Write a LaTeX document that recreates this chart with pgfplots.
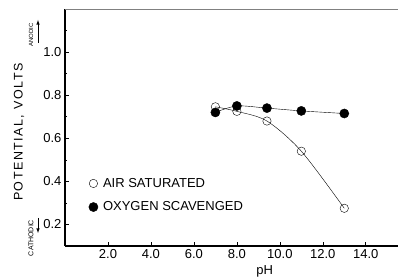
\documentclass[border=0pt]{standalone}
\usepackage{fontspec}
\setmainfont{Liberation Sans}
\newfontfamily\widefont[LetterSpace=12]{Liberation Sans}
\usepackage{pgfplots}
\pgfplotsset{compat=1.18}
\begin{document}
\begin{tikzpicture}
\begin{axis}[
  scale only axis,
  width=333pt, height=237pt,
  xmin=0, xmax=15.5, ymin=0.1, ymax=1.2,
  axis lines=left,
  axis line style={line width=1.1pt, -},
  xtick={2,4,6,8,10,12,14},
  ytick={0.2,0.4,0.6,0.8,1.0},
  minor ytick={0.3,0.5,0.7,0.9,1.1},
  xticklabel style={/pgf/number format/fixed,/pgf/number format/fixed zerofill,/pgf/number format/precision=1},
  yticklabel style={/pgf/number format/fixed,/pgf/number format/fixed zerofill,/pgf/number format/precision=1},
  /pgf/number format/assume math mode=true,
  tick align=inside,
  major tick length=4pt, minor tick length=2.5pt,
  tick style={black, line width=0.6pt},
  ticklabel style={font=\fontsize{13}{15}\selectfont},
  xlabel={pH}, xlabel style={font=\fontsize{13}{15}\selectfont, at={(rel axis cs:0.6,0)}, anchor=north, yshift=-16pt},
  ylabel={\widefont POTENTIAL, VOLTS}, ylabel style={font=\fontsize{12.5}{14}\selectfont, at={(rel axis cs:-0.138,0.48)}, anchor=center},
  legend style={at={(axis cs:1.1,0.425)}, anchor=north west, draw=none, fill=none,
    font=\fontsize{13}{15}\selectfont, row sep=9pt, inner sep=0pt,
    /tikz/every odd column/.append style={column sep=3pt}},
  legend cell align=left,
  clip=false,
]
\addlegendimage{only marks, mark=o, mark size=4.2pt, black, thin}
\addlegendentry{AIR SATURATED}
\addlegendimage{only marks, mark=*, mark size=4.6pt, black}
\addlegendentry{OXYGEN SCAVENGED}
\addplot[black, thin, smooth, mark=*, mark size=4.6pt, mark options={fill=black}, forget plot]
  coordinates {(7.0,0.72) (8.0,0.75) (9.4,0.74) (11.0,0.727) (13.0,0.715)};
\addplot[black, thin, smooth, mark=o, mark size=4.2pt, mark options={fill=white}, forget plot]
  coordinates {(7.0,0.746) (8.0,0.725) (9.4,0.68) (11.0,0.54) (13.0,0.275)};
\coordinate (sw) at (rel axis cs:0,0);
\coordinate (nw) at (rel axis cs:0,1);
\coordinate (ne) at (rel axis cs:1,1);
\end{axis}
\draw[gray, line width=0.6pt] (nw) -- (ne);
\node[rotate=90, font=\fontsize{6}{7}\selectfont, anchor=center] at ([shift={(-34pt,-26pt)}]nw) {ANODIC};
\draw[-latex, line width=0.6pt] ([shift={(-27pt,-34pt)}]nw) -- ([shift={(-27pt,-11pt)}]nw);
\node[rotate=90, font=\fontsize{7}{8}\selectfont, anchor=center] at ([shift={(-34pt,8pt)}]sw) {CATHODIC};
\draw[-latex, line width=0.6pt] ([shift={(-27pt,28pt)}]sw) -- ([shift={(-27pt,13pt)}]sw);
\pgfresetboundingbox
\path[use as bounding box] ([shift={(-65pt,-32pt)}]sw) rectangle ([shift={(0pt,9pt)}]ne);
\end{tikzpicture}
\end{document}
